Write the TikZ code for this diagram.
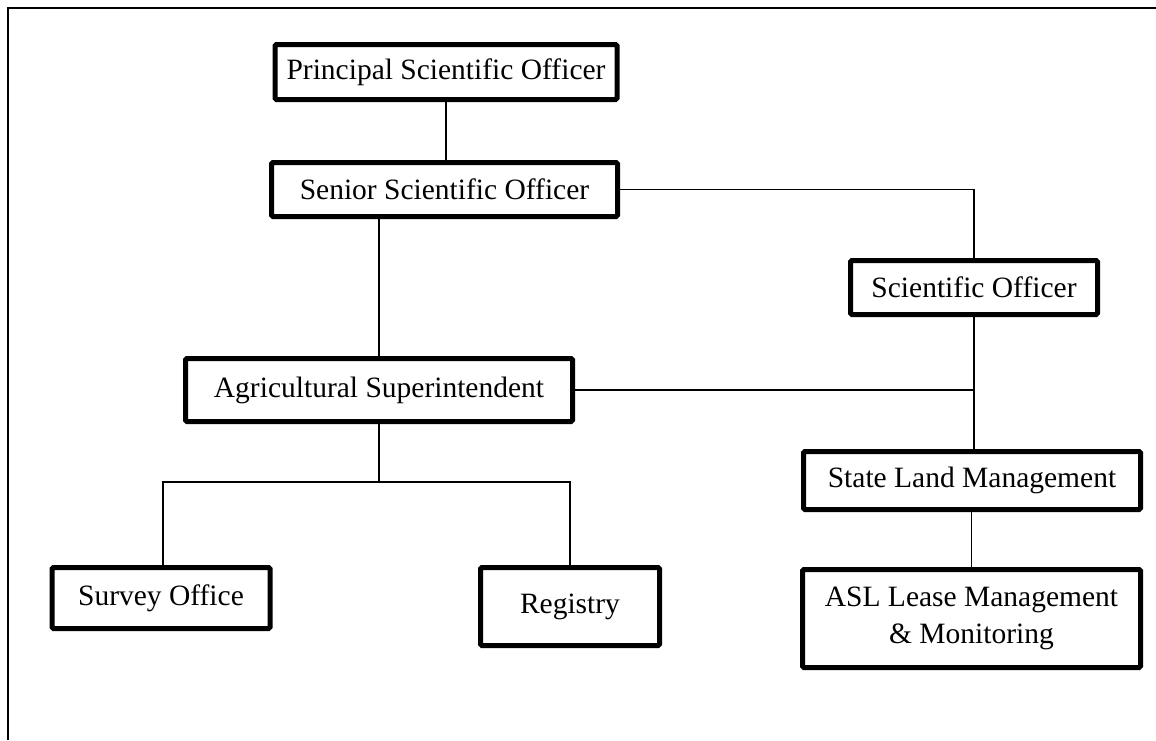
\documentclass[tikz,border=0pt]{standalone}
\usepackage{fontspec}
\setmainfont{Liberation Serif}
\begin{document}
\begin{tikzpicture}[x=1pt,y=-1pt,
  box/.style={draw=black, line width=5pt, rounded corners=1.5pt, inner sep=0pt, outer sep=0pt,
    font=\fontsize{29.5}{37}\selectfont, align=center},
  link/.style={draw=black, line width=1.4pt}]
\useasboundingbox (0,0) rectangle (1156,740);
\draw[line width=1.5pt] (8,740) -- (8,8) -- (1156,8);
\node[box, minimum width=342pt, minimum height=55pt] (pso) at (446,72) {Principal Scientific Officer};
\node[box, minimum width=346pt, minimum height=54pt] (sso) at (444.5,189.5) {Senior Scientific Officer};
\node[box, minimum width=247pt, minimum height=54pt] (so) at (974,287.5) {Scientific Officer};
\node[box, minimum width=387pt, minimum height=63pt] (agri) at (379,390) {Agricultural Superintendent};
\node[box, minimum width=337pt, minimum height=58pt] (slm) at (972,480.5) {State Land Management};
\node[box, minimum width=338pt, minimum height=98pt] (asl) at (971.5,618.5) {ASL Lease Management\\ \& Monitoring};
\node[box, minimum width=218pt, minimum height=61pt] (survey) at (161,598) {Survey Office};
\node[box, minimum width=179pt, minimum height=78pt] (reg) at (570,606.5) {Registry};
\coordinate (busy) at (0,482);
\draw[link] (pso.south) -- (pso.south |- sso.north);
\draw[link] (sso.east) -| (so.north);
\draw[link] (agri.north |- sso.south) -- (agri.north);
\draw[link] (so.south) -- (so.south |- slm.north);
\coordinate (j) at (so.south |- agri.east);
\draw[link] (agri.east) -- (j);
\draw[link] (slm.south -| asl.north) -- (asl.north);
\draw[link] (agri.south) -- (agri.south |- busy);
\draw[link] ([xshift=2pt]survey.north) -- ([xshift=2pt]survey.north |- busy) -- (reg.north |- busy) -- (reg.north);
\end{tikzpicture}
\end{document}
